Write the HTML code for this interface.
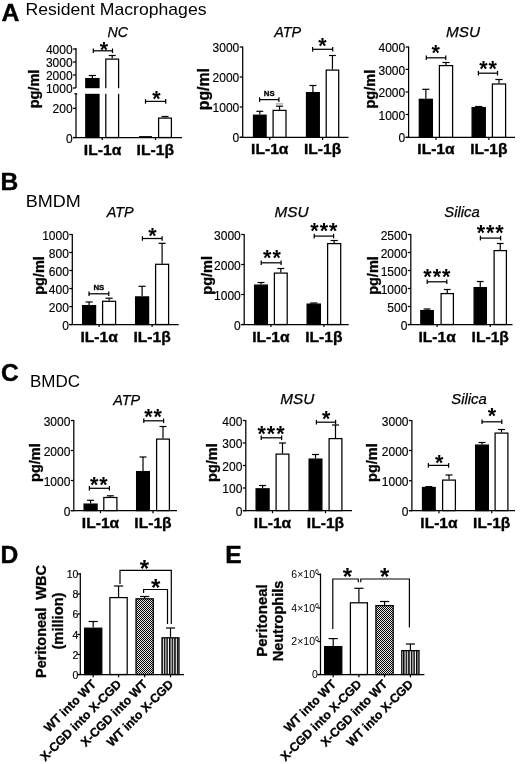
<!DOCTYPE html>
<html lang="en"><head><meta charset="utf-8"><title>Figure</title>
<style>html,body{margin:0;padding:0;background:#fff}svg{display:block}text{font-family:"Liberation Sans", sans-serif}</style>
</head><body>
<svg width="520" height="764" viewBox="0 0 520 764">
<defs>
<pattern id="chk" width="2" height="2" patternUnits="userSpaceOnUse"><rect width="2" height="2" fill="#e8e8e8"/><rect width="1" height="1" fill="#000"/><rect x="1" y="1" width="1" height="1" fill="#000"/></pattern>
<pattern id="vst" width="2.6" height="4" patternUnits="userSpaceOnUse"><rect width="2.6" height="4" fill="#fff"/><rect width="1.5" height="4" fill="#000"/></pattern>
</defs>
<rect width="520" height="764" fill="#fff"/>
<text x="1.4" y="21" font-size="24.8" font-weight="bold" stroke="#000" stroke-width="0.4">A</text>
<text x="0.6" y="190.3" font-size="24.6" font-weight="bold" stroke="#000" stroke-width="0.4">B</text>
<text x="1" y="380.6" font-size="24.6" font-weight="bold" stroke="#000" stroke-width="0.4">C</text>
<text x="0.6" y="562.8" font-size="24.6" font-weight="bold" stroke="#000" stroke-width="0.4">D</text>
<text x="225.3" y="563" font-size="24.6" font-weight="bold" stroke="#000" stroke-width="0.4">E</text>
<text x="25.5" y="14.8" font-size="17" textLength="181" lengthAdjust="spacingAndGlyphs">Resident Macrophages</text>
<text x="25.8" y="206.5" font-size="17" textLength="55" lengthAdjust="spacingAndGlyphs">BMDM</text>
<text x="30" y="387.4" font-size="17" textLength="50" lengthAdjust="spacingAndGlyphs">BMDC</text>
<line x1="76" y1="48" x2="76" y2="88" stroke="#000" stroke-width="1.25"/>
<line x1="73" y1="49" x2="76" y2="49" stroke="#000" stroke-width="1.25"/>
<text x="72.6" y="54.1" font-size="12" text-anchor="end" stroke="#000" stroke-width="0.15">4000</text>
<line x1="73" y1="62" x2="76" y2="62" stroke="#000" stroke-width="1.25"/>
<text x="72.6" y="67.1" font-size="12" text-anchor="end" stroke="#000" stroke-width="0.15">3000</text>
<line x1="73" y1="75" x2="76" y2="75" stroke="#000" stroke-width="1.25"/>
<text x="72.6" y="80.1" font-size="12" text-anchor="end" stroke="#000" stroke-width="0.15">2000</text>
<line x1="73" y1="88" x2="76" y2="88" stroke="#000" stroke-width="1.25"/>
<text x="72.6" y="93.1" font-size="12" text-anchor="end" stroke="#000" stroke-width="0.15">1000</text>
<line x1="76" y1="93.5" x2="76" y2="138" stroke="#000" stroke-width="1.25"/>
<line x1="74.5" y1="93.8" x2="77.5" y2="93.8" stroke="#000" stroke-width="1.25"/>
<line x1="73" y1="108.3" x2="76" y2="108.3" stroke="#000" stroke-width="1.25"/>
<text x="72.6" y="113.4" font-size="12" text-anchor="end" stroke="#000" stroke-width="0.15">200</text>
<line x1="73" y1="137.5" x2="76" y2="137.5" stroke="#000" stroke-width="1.25"/>
<text x="72.6" y="142.6" font-size="12" text-anchor="end" stroke="#000" stroke-width="0.15">0</text>
<line x1="73" y1="137.5" x2="182" y2="137.5" stroke="#000" stroke-width="1.25"/>
<line x1="92.4" y1="78" x2="92.4" y2="75.5" stroke="#000" stroke-width="1.2"/>
<line x1="88.8" y1="75.5" x2="96" y2="75.5" stroke="#000" stroke-width="1.2"/>
<rect x="85.8" y="78.6" width="13.2" height="58.9" fill="#000" stroke="#000" stroke-width="1.25"/>
<line x1="112.2" y1="58.5" x2="112.2" y2="55.5" stroke="#000" stroke-width="1.2"/>
<line x1="108.7" y1="55.5" x2="115.7" y2="55.5" stroke="#000" stroke-width="1.2"/>
<rect x="105.8" y="59.1" width="12.8" height="78.4" fill="#fff" stroke="#000" stroke-width="1.25"/>
<rect x="77" y="88.2" width="60" height="5.6" fill="#fff"/>
<line x1="139" y1="136.6" x2="152" y2="136.6" stroke="#000" stroke-width="1"/>
<line x1="165" y1="117.5" x2="165" y2="116.5" stroke="#000" stroke-width="1.2"/>
<line x1="161.5" y1="116.5" x2="168.5" y2="116.5" stroke="#000" stroke-width="1.2"/>
<rect x="158.6" y="118.1" width="12.8" height="19.4" fill="#fff" stroke="#000" stroke-width="1.25"/>
<line x1="102.2" y1="137.5" x2="102.2" y2="140" stroke="#000" stroke-width="1.25"/>
<line x1="155.5" y1="137.5" x2="155.5" y2="140" stroke="#000" stroke-width="1.25"/>
<line x1="93.3" y1="50.8" x2="112.5" y2="50.8" stroke="#000" stroke-width="1.25"/>
<line x1="93.3" y1="48.5" x2="93.3" y2="53.1" stroke="#000" stroke-width="1.25"/>
<line x1="112.5" y1="48.5" x2="112.5" y2="53.1" stroke="#000" stroke-width="1.25"/>
<text x="104" y="57" font-size="21.5" font-weight="bold" text-anchor="middle">*</text>
<line x1="145.5" y1="101.4" x2="165.7" y2="101.4" stroke="#000" stroke-width="1.25"/>
<line x1="145.5" y1="99.1" x2="145.5" y2="103.7" stroke="#000" stroke-width="1.25"/>
<line x1="165.7" y1="99.1" x2="165.7" y2="103.7" stroke="#000" stroke-width="1.25"/>
<text x="156.4" y="105.9" font-size="21.5" font-weight="bold" text-anchor="middle">*</text>
<text x="117.8" y="37" font-size="15" font-style="italic" text-anchor="middle" textLength="20.5" lengthAdjust="spacingAndGlyphs" stroke="#000" stroke-width="0.25">NC</text>
<text x="83.8" y="154.5" font-size="15.5" font-weight="bold" textLength="37.5" lengthAdjust="spacingAndGlyphs" stroke="#000" stroke-width="0.35">IL-1α</text>
<text x="136.6" y="154.5" font-size="15.5" font-weight="bold" textLength="37.5" lengthAdjust="spacingAndGlyphs" stroke="#000" stroke-width="0.35">IL-1β</text>
<text x="38.8" y="89" font-size="14.5" font-weight="bold" text-anchor="middle" transform="rotate(-90 38.8 89)" stroke="#000" stroke-width="0.3">pg/ml</text>
<line x1="242.7" y1="46.4" x2="242.7" y2="137.9" stroke="#000" stroke-width="1.25"/>
<line x1="239.7" y1="137.3" x2="348.5" y2="137.3" stroke="#000" stroke-width="1.25"/>
<line x1="239.7" y1="47" x2="242.7" y2="47" stroke="#000" stroke-width="1.25"/>
<text x="239.3" y="52.1" font-size="12" text-anchor="end" stroke="#000" stroke-width="0.15">3000</text>
<line x1="239.7" y1="77" x2="242.7" y2="77" stroke="#000" stroke-width="1.25"/>
<text x="239.3" y="82.1" font-size="12" text-anchor="end" stroke="#000" stroke-width="0.15">2000</text>
<line x1="239.7" y1="107" x2="242.7" y2="107" stroke="#000" stroke-width="1.25"/>
<text x="239.3" y="112.1" font-size="12" text-anchor="end" stroke="#000" stroke-width="0.15">1000</text>
<line x1="239.7" y1="137.3" x2="242.7" y2="137.3" stroke="#000" stroke-width="1.25"/>
<text x="239.3" y="142.4" font-size="12" text-anchor="end" stroke="#000" stroke-width="0.15">0</text>
<line x1="259.8" y1="114.6" x2="259.8" y2="111.3" stroke="#000" stroke-width="1.2"/>
<line x1="256.35" y1="111.3" x2="263.25" y2="111.3" stroke="#000" stroke-width="1.2"/>
<rect x="253.5" y="115.2" width="12.6" height="22.1" fill="#000" stroke="#000" stroke-width="1.25"/>
<line x1="279.55" y1="109.8" x2="279.55" y2="106.2" stroke="#000" stroke-width="1.2"/>
<line x1="276.02" y1="106.2" x2="283.08" y2="106.2" stroke="#000" stroke-width="1.2"/>
<rect x="273.1" y="110.4" width="12.9" height="26.9" fill="#fff" stroke="#000" stroke-width="1.25"/>
<line x1="312.9" y1="92" x2="312.9" y2="85.5" stroke="#000" stroke-width="1.2"/>
<line x1="309.4" y1="85.5" x2="316.4" y2="85.5" stroke="#000" stroke-width="1.2"/>
<rect x="306.5" y="92.6" width="12.8" height="44.7" fill="#000" stroke="#000" stroke-width="1.25"/>
<line x1="332.45" y1="69.5" x2="332.45" y2="55.5" stroke="#000" stroke-width="1.2"/>
<line x1="329.03" y1="55.5" x2="335.88" y2="55.5" stroke="#000" stroke-width="1.2"/>
<rect x="326.2" y="70.1" width="12.5" height="67.2" fill="#fff" stroke="#000" stroke-width="1.25"/>
<line x1="269.75" y1="137.3" x2="269.75" y2="139.9" stroke="#000" stroke-width="1.25"/>
<line x1="322.6" y1="137.3" x2="322.6" y2="139.9" stroke="#000" stroke-width="1.25"/>
<line x1="259.6" y1="99.6" x2="278.9" y2="99.6" stroke="#000" stroke-width="1.25"/>
<line x1="259.6" y1="97.3" x2="259.6" y2="101.9" stroke="#000" stroke-width="1.25"/>
<line x1="278.9" y1="97.3" x2="278.9" y2="101.9" stroke="#000" stroke-width="1.25"/>
<text x="269.25" y="95.9" font-size="7.8" font-weight="bold" text-anchor="middle" stroke="#000" stroke-width="0.3">NS</text>
<line x1="312.6" y1="49.3" x2="332.7" y2="49.3" stroke="#000" stroke-width="1.25"/>
<line x1="312.6" y1="47" x2="312.6" y2="51.6" stroke="#000" stroke-width="1.25"/>
<line x1="332.7" y1="47" x2="332.7" y2="51.6" stroke="#000" stroke-width="1.25"/>
<text x="322.5" y="52.6" font-size="21.5" font-weight="bold" text-anchor="middle">*</text>
<text x="287.7" y="37" font-size="15" font-style="italic" text-anchor="middle" textLength="27" lengthAdjust="spacingAndGlyphs" stroke="#000" stroke-width="0.25">ATP</text>
<text x="269.75" y="154.3" font-size="15.5" font-weight="bold" text-anchor="middle" textLength="37.3" lengthAdjust="spacingAndGlyphs" stroke="#000" stroke-width="0.35">IL-1α</text>
<text x="322.6" y="154.3" font-size="15.5" font-weight="bold" text-anchor="middle" textLength="37.3" lengthAdjust="spacingAndGlyphs" stroke="#000" stroke-width="0.35">IL-1β</text>
<text x="208.6" y="89.15" font-size="15.8" font-weight="bold" text-anchor="middle" transform="rotate(-90 208.6 89.15)" stroke="#000" stroke-width="0.3">pg/ml</text>
<line x1="275.8" y1="103.9" x2="283.2" y2="103.9" stroke="#999" stroke-width="1.2"/>
<line x1="408.6" y1="46.4" x2="408.6" y2="137.9" stroke="#000" stroke-width="1.25"/>
<line x1="405.6" y1="137.3" x2="515" y2="137.3" stroke="#000" stroke-width="1.25"/>
<line x1="405.6" y1="47" x2="408.6" y2="47" stroke="#000" stroke-width="1.25"/>
<text x="405.2" y="52.1" font-size="12" text-anchor="end" stroke="#000" stroke-width="0.15">4000</text>
<line x1="405.6" y1="69.4" x2="408.6" y2="69.4" stroke="#000" stroke-width="1.25"/>
<text x="405.2" y="74.5" font-size="12" text-anchor="end" stroke="#000" stroke-width="0.15">3000</text>
<line x1="405.6" y1="92" x2="408.6" y2="92" stroke="#000" stroke-width="1.25"/>
<text x="405.2" y="97.1" font-size="12" text-anchor="end" stroke="#000" stroke-width="0.15">2000</text>
<line x1="405.6" y1="114.5" x2="408.6" y2="114.5" stroke="#000" stroke-width="1.25"/>
<text x="405.2" y="119.6" font-size="12" text-anchor="end" stroke="#000" stroke-width="0.15">1000</text>
<line x1="405.6" y1="137.3" x2="408.6" y2="137.3" stroke="#000" stroke-width="1.25"/>
<text x="405.2" y="142.4" font-size="12" text-anchor="end" stroke="#000" stroke-width="0.15">0</text>
<line x1="425.85" y1="98.7" x2="425.85" y2="89.3" stroke="#000" stroke-width="1.2"/>
<line x1="422.28" y1="89.3" x2="429.43" y2="89.3" stroke="#000" stroke-width="1.2"/>
<rect x="419.3" y="99.3" width="13.1" height="38" fill="#000" stroke="#000" stroke-width="1.25"/>
<line x1="446" y1="65" x2="446" y2="62.5" stroke="#000" stroke-width="1.2"/>
<line x1="442.4" y1="62.5" x2="449.6" y2="62.5" stroke="#000" stroke-width="1.2"/>
<rect x="439.4" y="65.6" width="13.2" height="71.7" fill="#fff" stroke="#000" stroke-width="1.25"/>
<line x1="478.7" y1="107" x2="478.7" y2="106.5" stroke="#000" stroke-width="1.2"/>
<line x1="475.1" y1="106.5" x2="482.3" y2="106.5" stroke="#000" stroke-width="1.2"/>
<rect x="472.1" y="107.6" width="13.2" height="29.7" fill="#000" stroke="#000" stroke-width="1.25"/>
<line x1="499" y1="83.4" x2="499" y2="79.5" stroke="#000" stroke-width="1.2"/>
<line x1="495.4" y1="79.5" x2="502.6" y2="79.5" stroke="#000" stroke-width="1.2"/>
<rect x="492.4" y="84" width="13.2" height="53.3" fill="#fff" stroke="#000" stroke-width="1.25"/>
<line x1="435.95" y1="137.3" x2="435.95" y2="139.9" stroke="#000" stroke-width="1.25"/>
<line x1="488.85" y1="137.3" x2="488.85" y2="139.9" stroke="#000" stroke-width="1.25"/>
<line x1="426.3" y1="57.8" x2="445.8" y2="57.8" stroke="#000" stroke-width="1.25"/>
<line x1="426.3" y1="55.5" x2="426.3" y2="60.1" stroke="#000" stroke-width="1.25"/>
<line x1="445.8" y1="55.5" x2="445.8" y2="60.1" stroke="#000" stroke-width="1.25"/>
<text x="435.7" y="60.4" font-size="21.5" font-weight="bold" text-anchor="middle">*</text>
<line x1="478.4" y1="73.2" x2="497.5" y2="73.2" stroke="#000" stroke-width="1.25"/>
<line x1="478.4" y1="70.9" x2="478.4" y2="75.5" stroke="#000" stroke-width="1.25"/>
<line x1="497.5" y1="70.9" x2="497.5" y2="75.5" stroke="#000" stroke-width="1.25"/>
<text x="488.6" y="75.9" font-size="21.5" font-weight="bold" text-anchor="middle" letter-spacing="1">**</text>
<text x="463" y="37" font-size="15" font-style="italic" text-anchor="middle" textLength="34" lengthAdjust="spacingAndGlyphs" stroke="#000" stroke-width="0.25">MSU</text>
<text x="435.95" y="154.3" font-size="15.5" font-weight="bold" text-anchor="middle" textLength="37.3" lengthAdjust="spacingAndGlyphs" stroke="#000" stroke-width="0.35">IL-1α</text>
<text x="488.85" y="154.3" font-size="15.5" font-weight="bold" text-anchor="middle" textLength="37.3" lengthAdjust="spacingAndGlyphs" stroke="#000" stroke-width="0.35">IL-1β</text>
<text x="374.7" y="89.15" font-size="14.5" font-weight="bold" text-anchor="middle" transform="rotate(-90 374.7 89.15)" stroke="#000" stroke-width="0.3">pg/ml</text>
<line x1="72.3" y1="233.9" x2="72.3" y2="325.1" stroke="#000" stroke-width="1.25"/>
<line x1="69.3" y1="324.5" x2="178.7" y2="324.5" stroke="#000" stroke-width="1.25"/>
<line x1="69.3" y1="234.5" x2="72.3" y2="234.5" stroke="#000" stroke-width="1.25"/>
<text x="68.9" y="239.6" font-size="12" text-anchor="end" stroke="#000" stroke-width="0.15">1000</text>
<line x1="69.3" y1="252.5" x2="72.3" y2="252.5" stroke="#000" stroke-width="1.25"/>
<text x="68.9" y="257.6" font-size="12" text-anchor="end" stroke="#000" stroke-width="0.15">800</text>
<line x1="69.3" y1="270.5" x2="72.3" y2="270.5" stroke="#000" stroke-width="1.25"/>
<text x="68.9" y="275.6" font-size="12" text-anchor="end" stroke="#000" stroke-width="0.15">600</text>
<line x1="69.3" y1="288.6" x2="72.3" y2="288.6" stroke="#000" stroke-width="1.25"/>
<text x="68.9" y="293.7" font-size="12" text-anchor="end" stroke="#000" stroke-width="0.15">400</text>
<line x1="69.3" y1="306.6" x2="72.3" y2="306.6" stroke="#000" stroke-width="1.25"/>
<text x="68.9" y="311.7" font-size="12" text-anchor="end" stroke="#000" stroke-width="0.15">200</text>
<line x1="69.3" y1="324.5" x2="72.3" y2="324.5" stroke="#000" stroke-width="1.25"/>
<text x="68.9" y="329.6" font-size="12" text-anchor="end" stroke="#000" stroke-width="0.15">0</text>
<line x1="89.1" y1="305" x2="89.1" y2="302" stroke="#000" stroke-width="1.2"/>
<line x1="85.55" y1="302" x2="92.65" y2="302" stroke="#000" stroke-width="1.2"/>
<rect x="82.6" y="305.6" width="13" height="18.9" fill="#000" stroke="#000" stroke-width="1.25"/>
<line x1="109.1" y1="300.7" x2="109.1" y2="298.2" stroke="#000" stroke-width="1.2"/>
<line x1="105.55" y1="298.2" x2="112.65" y2="298.2" stroke="#000" stroke-width="1.2"/>
<rect x="102.6" y="301.3" width="13" height="23.2" fill="#fff" stroke="#000" stroke-width="1.25"/>
<line x1="142.1" y1="296.3" x2="142.1" y2="286.3" stroke="#000" stroke-width="1.2"/>
<line x1="138.55" y1="286.3" x2="145.65" y2="286.3" stroke="#000" stroke-width="1.2"/>
<rect x="135.6" y="296.9" width="13" height="27.6" fill="#000" stroke="#000" stroke-width="1.25"/>
<line x1="162.1" y1="263.7" x2="162.1" y2="243.3" stroke="#000" stroke-width="1.2"/>
<line x1="158.55" y1="243.3" x2="165.65" y2="243.3" stroke="#000" stroke-width="1.2"/>
<rect x="155.6" y="264.3" width="13" height="60.2" fill="#fff" stroke="#000" stroke-width="1.25"/>
<line x1="99.1" y1="324.5" x2="99.1" y2="327.1" stroke="#000" stroke-width="1.25"/>
<line x1="152.1" y1="324.5" x2="152.1" y2="327.1" stroke="#000" stroke-width="1.25"/>
<line x1="89" y1="293.8" x2="108.8" y2="293.8" stroke="#000" stroke-width="1.25"/>
<line x1="89" y1="291.5" x2="89" y2="296.1" stroke="#000" stroke-width="1.25"/>
<line x1="108.8" y1="291.5" x2="108.8" y2="296.1" stroke="#000" stroke-width="1.25"/>
<text x="98.9" y="290.1" font-size="7.8" font-weight="bold" text-anchor="middle" stroke="#000" stroke-width="0.3">NS</text>
<line x1="142.4" y1="238.5" x2="162.1" y2="238.5" stroke="#000" stroke-width="1.25"/>
<line x1="142.4" y1="236.2" x2="142.4" y2="240.8" stroke="#000" stroke-width="1.25"/>
<line x1="162.1" y1="236.2" x2="162.1" y2="240.8" stroke="#000" stroke-width="1.25"/>
<text x="152.4" y="243.2" font-size="21.5" font-weight="bold" text-anchor="middle">*</text>
<text x="120.2" y="217" font-size="15" font-style="italic" text-anchor="middle" textLength="27" lengthAdjust="spacingAndGlyphs" stroke="#000" stroke-width="0.25">ATP</text>
<text x="99.1" y="341.5" font-size="15.5" font-weight="bold" text-anchor="middle" textLength="37.3" lengthAdjust="spacingAndGlyphs" stroke="#000" stroke-width="0.35">IL-1α</text>
<text x="152.1" y="341.5" font-size="15.5" font-weight="bold" text-anchor="middle" textLength="37.3" lengthAdjust="spacingAndGlyphs" stroke="#000" stroke-width="0.35">IL-1β</text>
<text x="43.5" y="275.5" font-size="14.5" font-weight="bold" text-anchor="middle" transform="rotate(-90 43.5 275.5)" stroke="#000" stroke-width="0.3">pg/ml</text>
<line x1="244.2" y1="233.9" x2="244.2" y2="325.1" stroke="#000" stroke-width="1.25"/>
<line x1="241.2" y1="324.5" x2="348.7" y2="324.5" stroke="#000" stroke-width="1.25"/>
<line x1="241.2" y1="234.5" x2="244.2" y2="234.5" stroke="#000" stroke-width="1.25"/>
<text x="240.8" y="239.6" font-size="12" text-anchor="end" stroke="#000" stroke-width="0.15">3000</text>
<line x1="241.2" y1="264.5" x2="244.2" y2="264.5" stroke="#000" stroke-width="1.25"/>
<text x="240.8" y="269.6" font-size="12" text-anchor="end" stroke="#000" stroke-width="0.15">2000</text>
<line x1="241.2" y1="294.5" x2="244.2" y2="294.5" stroke="#000" stroke-width="1.25"/>
<text x="240.8" y="299.6" font-size="12" text-anchor="end" stroke="#000" stroke-width="0.15">1000</text>
<line x1="241.2" y1="324.5" x2="244.2" y2="324.5" stroke="#000" stroke-width="1.25"/>
<text x="240.8" y="329.6" font-size="12" text-anchor="end" stroke="#000" stroke-width="0.15">0</text>
<line x1="261" y1="284.5" x2="261" y2="282.5" stroke="#000" stroke-width="1.2"/>
<line x1="257.5" y1="282.5" x2="264.5" y2="282.5" stroke="#000" stroke-width="1.2"/>
<rect x="254.6" y="285.1" width="12.8" height="39.4" fill="#000" stroke="#000" stroke-width="1.25"/>
<line x1="280.8" y1="272.5" x2="280.8" y2="268.5" stroke="#000" stroke-width="1.2"/>
<line x1="277.3" y1="268.5" x2="284.3" y2="268.5" stroke="#000" stroke-width="1.2"/>
<rect x="274.4" y="273.1" width="12.8" height="51.4" fill="#fff" stroke="#000" stroke-width="1.25"/>
<line x1="313.75" y1="303.5" x2="313.75" y2="303" stroke="#000" stroke-width="1.2"/>
<line x1="310.12" y1="303" x2="317.38" y2="303" stroke="#000" stroke-width="1.2"/>
<rect x="307.1" y="304.1" width="13.3" height="20.4" fill="#000" stroke="#000" stroke-width="1.25"/>
<line x1="334.15" y1="243" x2="334.15" y2="240.5" stroke="#000" stroke-width="1.2"/>
<line x1="330.57" y1="240.5" x2="337.72" y2="240.5" stroke="#000" stroke-width="1.2"/>
<rect x="327.6" y="243.6" width="13.1" height="80.9" fill="#fff" stroke="#000" stroke-width="1.25"/>
<line x1="270.9" y1="324.5" x2="270.9" y2="327.1" stroke="#000" stroke-width="1.25"/>
<line x1="323.9" y1="324.5" x2="323.9" y2="327.1" stroke="#000" stroke-width="1.25"/>
<line x1="261.2" y1="262.8" x2="281.1" y2="262.8" stroke="#000" stroke-width="1.25"/>
<line x1="261.2" y1="260.5" x2="261.2" y2="265.1" stroke="#000" stroke-width="1.25"/>
<line x1="281.1" y1="260.5" x2="281.1" y2="265.1" stroke="#000" stroke-width="1.25"/>
<text x="272.4" y="265.4" font-size="21.5" font-weight="bold" text-anchor="middle" letter-spacing="1">**</text>
<line x1="314.2" y1="236.1" x2="333.6" y2="236.1" stroke="#000" stroke-width="1.25"/>
<line x1="314.2" y1="233.8" x2="314.2" y2="238.4" stroke="#000" stroke-width="1.25"/>
<line x1="333.6" y1="233.8" x2="333.6" y2="238.4" stroke="#000" stroke-width="1.25"/>
<text x="324.4" y="238" font-size="21.5" font-weight="bold" text-anchor="middle" letter-spacing="1">***</text>
<text x="291.5" y="217" font-size="15" font-style="italic" text-anchor="middle" textLength="34" lengthAdjust="spacingAndGlyphs" stroke="#000" stroke-width="0.25">MSU</text>
<text x="270.9" y="341.5" font-size="15.5" font-weight="bold" text-anchor="middle" textLength="37.3" lengthAdjust="spacingAndGlyphs" stroke="#000" stroke-width="0.35">IL-1α</text>
<text x="323.9" y="341.5" font-size="15.5" font-weight="bold" text-anchor="middle" textLength="37.3" lengthAdjust="spacingAndGlyphs" stroke="#000" stroke-width="0.35">IL-1β</text>
<text x="211.9" y="275.3" font-size="14.5" font-weight="bold" text-anchor="middle" transform="rotate(-90 211.9 275.3)" stroke="#000" stroke-width="0.3">pg/ml</text>
<line x1="410.8" y1="233.9" x2="410.8" y2="325.1" stroke="#000" stroke-width="1.25"/>
<line x1="407.8" y1="324.5" x2="512.5" y2="324.5" stroke="#000" stroke-width="1.25"/>
<line x1="407.8" y1="234.5" x2="410.8" y2="234.5" stroke="#000" stroke-width="1.25"/>
<text x="407.4" y="239.6" font-size="12" text-anchor="end" stroke="#000" stroke-width="0.15">2500</text>
<line x1="407.8" y1="252.5" x2="410.8" y2="252.5" stroke="#000" stroke-width="1.25"/>
<text x="407.4" y="257.6" font-size="12" text-anchor="end" stroke="#000" stroke-width="0.15">2000</text>
<line x1="407.8" y1="270.5" x2="410.8" y2="270.5" stroke="#000" stroke-width="1.25"/>
<text x="407.4" y="275.6" font-size="12" text-anchor="end" stroke="#000" stroke-width="0.15">1500</text>
<line x1="407.8" y1="288.5" x2="410.8" y2="288.5" stroke="#000" stroke-width="1.25"/>
<text x="407.4" y="293.6" font-size="12" text-anchor="end" stroke="#000" stroke-width="0.15">1000</text>
<line x1="407.8" y1="306.5" x2="410.8" y2="306.5" stroke="#000" stroke-width="1.25"/>
<text x="407.4" y="311.6" font-size="12" text-anchor="end" stroke="#000" stroke-width="0.15">500</text>
<line x1="407.8" y1="324.5" x2="410.8" y2="324.5" stroke="#000" stroke-width="1.25"/>
<text x="407.4" y="329.6" font-size="12" text-anchor="end" stroke="#000" stroke-width="0.15">0</text>
<line x1="427.05" y1="310" x2="427.05" y2="309" stroke="#000" stroke-width="1.2"/>
<line x1="423.62" y1="309" x2="430.47" y2="309" stroke="#000" stroke-width="1.2"/>
<rect x="420.8" y="310.6" width="12.5" height="13.9" fill="#000" stroke="#000" stroke-width="1.25"/>
<line x1="447.25" y1="293" x2="447.25" y2="289.5" stroke="#000" stroke-width="1.2"/>
<line x1="443.88" y1="289.5" x2="450.62" y2="289.5" stroke="#000" stroke-width="1.2"/>
<rect x="441.1" y="293.6" width="12.3" height="30.9" fill="#fff" stroke="#000" stroke-width="1.25"/>
<line x1="480.25" y1="287" x2="480.25" y2="281.5" stroke="#000" stroke-width="1.2"/>
<line x1="476.88" y1="281.5" x2="483.62" y2="281.5" stroke="#000" stroke-width="1.2"/>
<rect x="474.1" y="287.6" width="12.3" height="36.9" fill="#000" stroke="#000" stroke-width="1.25"/>
<line x1="500.25" y1="250" x2="500.25" y2="243.5" stroke="#000" stroke-width="1.2"/>
<line x1="496.88" y1="243.5" x2="503.62" y2="243.5" stroke="#000" stroke-width="1.2"/>
<rect x="494.1" y="250.6" width="12.3" height="73.9" fill="#fff" stroke="#000" stroke-width="1.25"/>
<line x1="437.1" y1="324.5" x2="437.1" y2="327.1" stroke="#000" stroke-width="1.25"/>
<line x1="490.25" y1="324.5" x2="490.25" y2="327.1" stroke="#000" stroke-width="1.25"/>
<line x1="427.2" y1="281.8" x2="446.8" y2="281.8" stroke="#000" stroke-width="1.25"/>
<line x1="427.2" y1="279.5" x2="427.2" y2="284.1" stroke="#000" stroke-width="1.25"/>
<line x1="446.8" y1="279.5" x2="446.8" y2="284.1" stroke="#000" stroke-width="1.25"/>
<text x="437.4" y="284.2" font-size="21.5" font-weight="bold" text-anchor="middle" letter-spacing="1">***</text>
<line x1="480.4" y1="238.1" x2="500.6" y2="238.1" stroke="#000" stroke-width="1.25"/>
<line x1="480.4" y1="235.8" x2="480.4" y2="240.4" stroke="#000" stroke-width="1.25"/>
<line x1="500.6" y1="235.8" x2="500.6" y2="240.4" stroke="#000" stroke-width="1.25"/>
<text x="490.7" y="239.9" font-size="21.5" font-weight="bold" text-anchor="middle" letter-spacing="1">***</text>
<text x="462" y="216.7" font-size="15" font-style="italic" text-anchor="middle" textLength="35.5" lengthAdjust="spacingAndGlyphs" stroke="#000" stroke-width="0.25">Silica</text>
<text x="437.1" y="341.5" font-size="15.5" font-weight="bold" text-anchor="middle" textLength="37.3" lengthAdjust="spacingAndGlyphs" stroke="#000" stroke-width="0.35">IL-1α</text>
<text x="490.25" y="341.5" font-size="15.5" font-weight="bold" text-anchor="middle" textLength="37.3" lengthAdjust="spacingAndGlyphs" stroke="#000" stroke-width="0.35">IL-1β</text>
<text x="377.8" y="275.5" font-size="14.5" font-weight="bold" text-anchor="middle" transform="rotate(-90 377.8 275.5)" stroke="#000" stroke-width="0.3">pg/ml</text>
<line x1="73.8" y1="419.9" x2="73.8" y2="511.2" stroke="#000" stroke-width="1.25"/>
<line x1="70.8" y1="510.6" x2="177" y2="510.6" stroke="#000" stroke-width="1.25"/>
<line x1="70.8" y1="420.5" x2="73.8" y2="420.5" stroke="#000" stroke-width="1.25"/>
<text x="70.4" y="425.6" font-size="12" text-anchor="end" stroke="#000" stroke-width="0.15">3000</text>
<line x1="70.8" y1="450.5" x2="73.8" y2="450.5" stroke="#000" stroke-width="1.25"/>
<text x="70.4" y="455.6" font-size="12" text-anchor="end" stroke="#000" stroke-width="0.15">2000</text>
<line x1="70.8" y1="480.5" x2="73.8" y2="480.5" stroke="#000" stroke-width="1.25"/>
<text x="70.4" y="485.6" font-size="12" text-anchor="end" stroke="#000" stroke-width="0.15">1000</text>
<line x1="70.8" y1="510.6" x2="73.8" y2="510.6" stroke="#000" stroke-width="1.25"/>
<text x="70.4" y="515.7" font-size="12" text-anchor="end" stroke="#000" stroke-width="0.15">0</text>
<line x1="90.6" y1="503.5" x2="90.6" y2="500.3" stroke="#000" stroke-width="1.2"/>
<line x1="87.05" y1="500.3" x2="94.15" y2="500.3" stroke="#000" stroke-width="1.2"/>
<rect x="84.1" y="504.1" width="13" height="6.5" fill="#000" stroke="#000" stroke-width="1.25"/>
<line x1="110.35" y1="496.9" x2="110.35" y2="495.8" stroke="#000" stroke-width="1.2"/>
<line x1="106.77" y1="495.8" x2="113.92" y2="495.8" stroke="#000" stroke-width="1.2"/>
<rect x="103.8" y="497.5" width="13.1" height="13.1" fill="#fff" stroke="#000" stroke-width="1.25"/>
<line x1="143" y1="471" x2="143" y2="457" stroke="#000" stroke-width="1.2"/>
<line x1="139.5" y1="457" x2="146.5" y2="457" stroke="#000" stroke-width="1.2"/>
<rect x="136.6" y="471.6" width="12.8" height="39" fill="#000" stroke="#000" stroke-width="1.25"/>
<line x1="163" y1="438.5" x2="163" y2="426.5" stroke="#000" stroke-width="1.2"/>
<line x1="159.5" y1="426.5" x2="166.5" y2="426.5" stroke="#000" stroke-width="1.2"/>
<rect x="156.6" y="439.1" width="12.8" height="71.5" fill="#fff" stroke="#000" stroke-width="1.25"/>
<line x1="100.5" y1="510.6" x2="100.5" y2="513.2" stroke="#000" stroke-width="1.25"/>
<line x1="153" y1="510.6" x2="153" y2="513.2" stroke="#000" stroke-width="1.25"/>
<line x1="89.4" y1="488.3" x2="109.4" y2="488.3" stroke="#000" stroke-width="1.25"/>
<line x1="89.4" y1="486" x2="89.4" y2="490.6" stroke="#000" stroke-width="1.25"/>
<line x1="109.4" y1="486" x2="109.4" y2="490.6" stroke="#000" stroke-width="1.25"/>
<text x="99.3" y="492" font-size="21.5" font-weight="bold" text-anchor="middle" letter-spacing="1">**</text>
<line x1="143.8" y1="420.8" x2="163.6" y2="420.8" stroke="#000" stroke-width="1.25"/>
<line x1="143.8" y1="418.5" x2="143.8" y2="423.1" stroke="#000" stroke-width="1.25"/>
<line x1="163.6" y1="418.5" x2="163.6" y2="423.1" stroke="#000" stroke-width="1.25"/>
<text x="153.6" y="424.4" font-size="21.5" font-weight="bold" text-anchor="middle" letter-spacing="1">**</text>
<text x="126.7" y="405" font-size="15" font-style="italic" text-anchor="middle" textLength="27" lengthAdjust="spacingAndGlyphs" stroke="#000" stroke-width="0.25">ATP</text>
<text x="100.5" y="527.6" font-size="15.5" font-weight="bold" text-anchor="middle" textLength="37.3" lengthAdjust="spacingAndGlyphs" stroke="#000" stroke-width="0.35">IL-1α</text>
<text x="153" y="527.6" font-size="15.5" font-weight="bold" text-anchor="middle" textLength="37.3" lengthAdjust="spacingAndGlyphs" stroke="#000" stroke-width="0.35">IL-1β</text>
<text x="40.5" y="462.55" font-size="14.5" font-weight="bold" text-anchor="middle" transform="rotate(-90 40.5 462.55)" stroke="#000" stroke-width="0.3">pg/ml</text>
<line x1="245.8" y1="419.9" x2="245.8" y2="511.2" stroke="#000" stroke-width="1.25"/>
<line x1="242.8" y1="510.6" x2="352" y2="510.6" stroke="#000" stroke-width="1.25"/>
<line x1="242.8" y1="420.5" x2="245.8" y2="420.5" stroke="#000" stroke-width="1.25"/>
<text x="242.4" y="425.6" font-size="12" text-anchor="end" stroke="#000" stroke-width="0.15">400</text>
<line x1="242.8" y1="443" x2="245.8" y2="443" stroke="#000" stroke-width="1.25"/>
<text x="242.4" y="448.1" font-size="12" text-anchor="end" stroke="#000" stroke-width="0.15">300</text>
<line x1="242.8" y1="465.5" x2="245.8" y2="465.5" stroke="#000" stroke-width="1.25"/>
<text x="242.4" y="470.6" font-size="12" text-anchor="end" stroke="#000" stroke-width="0.15">200</text>
<line x1="242.8" y1="488" x2="245.8" y2="488" stroke="#000" stroke-width="1.25"/>
<text x="242.4" y="493.1" font-size="12" text-anchor="end" stroke="#000" stroke-width="0.15">100</text>
<line x1="242.8" y1="510.6" x2="245.8" y2="510.6" stroke="#000" stroke-width="1.25"/>
<text x="242.4" y="515.7" font-size="12" text-anchor="end" stroke="#000" stroke-width="0.15">0</text>
<line x1="262.6" y1="488.2" x2="262.6" y2="485.5" stroke="#000" stroke-width="1.2"/>
<line x1="259.05" y1="485.5" x2="266.15" y2="485.5" stroke="#000" stroke-width="1.2"/>
<rect x="256.1" y="488.8" width="13" height="21.8" fill="#000" stroke="#000" stroke-width="1.25"/>
<line x1="282.5" y1="453.5" x2="282.5" y2="443" stroke="#000" stroke-width="1.2"/>
<line x1="279" y1="443" x2="286" y2="443" stroke="#000" stroke-width="1.2"/>
<rect x="276.1" y="454.1" width="12.8" height="56.5" fill="#fff" stroke="#000" stroke-width="1.25"/>
<line x1="315.5" y1="458.5" x2="315.5" y2="454.5" stroke="#000" stroke-width="1.2"/>
<line x1="312" y1="454.5" x2="319" y2="454.5" stroke="#000" stroke-width="1.2"/>
<rect x="309.1" y="459.1" width="12.8" height="51.5" fill="#000" stroke="#000" stroke-width="1.25"/>
<line x1="335.5" y1="438" x2="335.5" y2="425" stroke="#000" stroke-width="1.2"/>
<line x1="332" y1="425" x2="339" y2="425" stroke="#000" stroke-width="1.2"/>
<rect x="329.1" y="438.6" width="12.8" height="72" fill="#fff" stroke="#000" stroke-width="1.25"/>
<line x1="272.5" y1="510.6" x2="272.5" y2="513.2" stroke="#000" stroke-width="1.25"/>
<line x1="325.5" y1="510.6" x2="325.5" y2="513.2" stroke="#000" stroke-width="1.25"/>
<line x1="261.2" y1="437.8" x2="281.6" y2="437.8" stroke="#000" stroke-width="1.25"/>
<line x1="261.2" y1="435.5" x2="261.2" y2="440.1" stroke="#000" stroke-width="1.25"/>
<line x1="281.6" y1="435.5" x2="281.6" y2="440.1" stroke="#000" stroke-width="1.25"/>
<text x="271.5" y="440.6" font-size="21.5" font-weight="bold" text-anchor="middle" letter-spacing="1">***</text>
<line x1="316.4" y1="422.2" x2="335.6" y2="422.2" stroke="#000" stroke-width="1.25"/>
<line x1="316.4" y1="419.9" x2="316.4" y2="424.5" stroke="#000" stroke-width="1.25"/>
<line x1="335.6" y1="419.9" x2="335.6" y2="424.5" stroke="#000" stroke-width="1.25"/>
<text x="326.3" y="426.4" font-size="21.5" font-weight="bold" text-anchor="middle">*</text>
<text x="297.2" y="404" font-size="15" font-style="italic" text-anchor="middle" textLength="34" lengthAdjust="spacingAndGlyphs" stroke="#000" stroke-width="0.25">MSU</text>
<text x="272.5" y="527.6" font-size="15.5" font-weight="bold" text-anchor="middle" textLength="37.3" lengthAdjust="spacingAndGlyphs" stroke="#000" stroke-width="0.35">IL-1α</text>
<text x="325.5" y="527.6" font-size="15.5" font-weight="bold" text-anchor="middle" textLength="37.3" lengthAdjust="spacingAndGlyphs" stroke="#000" stroke-width="0.35">IL-1β</text>
<text x="217" y="462.55" font-size="14.5" font-weight="bold" text-anchor="middle" transform="rotate(-90 217 462.55)" stroke="#000" stroke-width="0.3">pg/ml</text>
<line x1="411.9" y1="419.9" x2="411.9" y2="511.2" stroke="#000" stroke-width="1.25"/>
<line x1="408.9" y1="510.6" x2="515" y2="510.6" stroke="#000" stroke-width="1.25"/>
<line x1="408.9" y1="420.5" x2="411.9" y2="420.5" stroke="#000" stroke-width="1.25"/>
<text x="408.5" y="425.6" font-size="12" text-anchor="end" stroke="#000" stroke-width="0.15">3000</text>
<line x1="408.9" y1="450.5" x2="411.9" y2="450.5" stroke="#000" stroke-width="1.25"/>
<text x="408.5" y="455.6" font-size="12" text-anchor="end" stroke="#000" stroke-width="0.15">2000</text>
<line x1="408.9" y1="480.7" x2="411.9" y2="480.7" stroke="#000" stroke-width="1.25"/>
<text x="408.5" y="485.8" font-size="12" text-anchor="end" stroke="#000" stroke-width="0.15">1000</text>
<line x1="408.9" y1="510.6" x2="411.9" y2="510.6" stroke="#000" stroke-width="1.25"/>
<text x="408.5" y="515.7" font-size="12" text-anchor="end" stroke="#000" stroke-width="0.15">0</text>
<line x1="428.85" y1="486.9" x2="428.85" y2="486.6" stroke="#000" stroke-width="1.2"/>
<line x1="425.38" y1="486.6" x2="432.33" y2="486.6" stroke="#000" stroke-width="1.2"/>
<rect x="422.5" y="487.5" width="12.7" height="23.1" fill="#000" stroke="#000" stroke-width="1.25"/>
<line x1="449" y1="479.5" x2="449" y2="475" stroke="#000" stroke-width="1.2"/>
<line x1="445.5" y1="475" x2="452.5" y2="475" stroke="#000" stroke-width="1.2"/>
<rect x="442.6" y="480.1" width="12.8" height="30.5" fill="#fff" stroke="#000" stroke-width="1.25"/>
<line x1="482" y1="444.5" x2="482" y2="442.5" stroke="#000" stroke-width="1.2"/>
<line x1="478.5" y1="442.5" x2="485.5" y2="442.5" stroke="#000" stroke-width="1.2"/>
<rect x="475.6" y="445.1" width="12.8" height="65.5" fill="#000" stroke="#000" stroke-width="1.25"/>
<line x1="501.5" y1="432.5" x2="501.5" y2="429.5" stroke="#000" stroke-width="1.2"/>
<line x1="498" y1="429.5" x2="505" y2="429.5" stroke="#000" stroke-width="1.2"/>
<rect x="495.1" y="433.1" width="12.8" height="77.5" fill="#fff" stroke="#000" stroke-width="1.25"/>
<line x1="438.95" y1="510.6" x2="438.95" y2="513.2" stroke="#000" stroke-width="1.25"/>
<line x1="491.75" y1="510.6" x2="491.75" y2="513.2" stroke="#000" stroke-width="1.25"/>
<line x1="428.4" y1="465.4" x2="448.6" y2="465.4" stroke="#000" stroke-width="1.25"/>
<line x1="428.4" y1="463.1" x2="428.4" y2="467.7" stroke="#000" stroke-width="1.25"/>
<line x1="448.6" y1="463.1" x2="448.6" y2="467.7" stroke="#000" stroke-width="1.25"/>
<text x="439.3" y="469.9" font-size="21.5" font-weight="bold" text-anchor="middle">*</text>
<line x1="482" y1="421.8" x2="501.8" y2="421.8" stroke="#000" stroke-width="1.25"/>
<line x1="482" y1="419.5" x2="482" y2="424.1" stroke="#000" stroke-width="1.25"/>
<line x1="501.8" y1="419.5" x2="501.8" y2="424.1" stroke="#000" stroke-width="1.25"/>
<text x="491.9" y="423.4" font-size="21.5" font-weight="bold" text-anchor="middle">*</text>
<text x="469" y="404" font-size="15" font-style="italic" text-anchor="middle" textLength="35.5" lengthAdjust="spacingAndGlyphs" stroke="#000" stroke-width="0.25">Silica</text>
<text x="438.95" y="527.6" font-size="15.5" font-weight="bold" text-anchor="middle" textLength="37.3" lengthAdjust="spacingAndGlyphs" stroke="#000" stroke-width="0.35">IL-1α</text>
<text x="491.75" y="527.6" font-size="15.5" font-weight="bold" text-anchor="middle" textLength="37.3" lengthAdjust="spacingAndGlyphs" stroke="#000" stroke-width="0.35">IL-1β</text>
<text x="376.6" y="462.55" font-size="14.5" font-weight="bold" text-anchor="middle" transform="rotate(-90 376.6 462.55)" stroke="#000" stroke-width="0.3">pg/ml</text>
<line x1="80.3" y1="573" x2="80.3" y2="675.1" stroke="#000" stroke-width="1.25"/>
<line x1="77.3" y1="674.5" x2="184" y2="674.5" stroke="#000" stroke-width="1.25"/>
<line x1="77.3" y1="574" x2="80.3" y2="574" stroke="#000" stroke-width="1.25"/>
<text x="78.4" y="578.2" font-size="10.5" text-anchor="end" stroke="#000" stroke-width="0.15">10</text>
<line x1="77.3" y1="594" x2="80.3" y2="594" stroke="#000" stroke-width="1.25"/>
<text x="78.4" y="598.2" font-size="10.5" text-anchor="end" stroke="#000" stroke-width="0.15">8</text>
<line x1="77.3" y1="614" x2="80.3" y2="614" stroke="#000" stroke-width="1.25"/>
<text x="78.4" y="618.2" font-size="10.5" text-anchor="end" stroke="#000" stroke-width="0.15">6</text>
<line x1="77.3" y1="634.5" x2="80.3" y2="634.5" stroke="#000" stroke-width="1.25"/>
<text x="78.4" y="638.7" font-size="10.5" text-anchor="end" stroke="#000" stroke-width="0.15">4</text>
<line x1="77.3" y1="654.5" x2="80.3" y2="654.5" stroke="#000" stroke-width="1.25"/>
<text x="78.4" y="658.7" font-size="10.5" text-anchor="end" stroke="#000" stroke-width="0.15">2</text>
<line x1="77.3" y1="674.5" x2="80.3" y2="674.5" stroke="#000" stroke-width="1.25"/>
<text x="78.4" y="678.7" font-size="10.5" text-anchor="end" stroke="#000" stroke-width="0.15">0</text>
<line x1="93.2" y1="627.6" x2="93.2" y2="621.5" stroke="#000" stroke-width="1.2"/>
<line x1="88.6" y1="621.5" x2="97.8" y2="621.5" stroke="#000" stroke-width="1.2"/>
<rect x="84.6" y="628.2" width="17.2" height="46.3" fill="#000" stroke="#000" stroke-width="1.25"/>
<line x1="93.2" y1="674.5" x2="93.2" y2="677.3" stroke="#000" stroke-width="1.25"/>
<line x1="118.55" y1="597" x2="118.55" y2="586" stroke="#000" stroke-width="1.2"/>
<line x1="113.92" y1="586" x2="123.17" y2="586" stroke="#000" stroke-width="1.2"/>
<rect x="109.9" y="597.6" width="17.3" height="76.9" fill="#fff" stroke="#000" stroke-width="1.25"/>
<line x1="118.55" y1="674.5" x2="118.55" y2="677.3" stroke="#000" stroke-width="1.25"/>
<line x1="144.65" y1="598.2" x2="144.65" y2="596.5" stroke="#000" stroke-width="1.2"/>
<line x1="140.03" y1="596.5" x2="149.28" y2="596.5" stroke="#000" stroke-width="1.2"/>
<rect x="136" y="598.8" width="17.3" height="75.7" fill="url(#chk)" stroke="#000" stroke-width="1.25"/>
<line x1="144.65" y1="674.5" x2="144.65" y2="677.3" stroke="#000" stroke-width="1.25"/>
<line x1="170.5" y1="637.2" x2="170.5" y2="628" stroke="#000" stroke-width="1.2"/>
<line x1="165.95" y1="628" x2="175.05" y2="628" stroke="#000" stroke-width="1.2"/>
<rect x="162" y="637.8" width="17" height="36.7" fill="url(#vst)" stroke="#000" stroke-width="1.25"/>
<line x1="170.5" y1="674.5" x2="170.5" y2="677.3" stroke="#000" stroke-width="1.25"/>
<polyline points="120,584 120,570.3 171.3,570.3 171.3,624" fill="none" stroke="#000" stroke-width="1.2"/>
<text x="144.3" y="576.8" font-size="24" font-weight="bold" text-anchor="middle">*</text>
<polyline points="143.6,593 143.6,589.5 167.5,589.5 167.5,624" fill="none" stroke="#000" stroke-width="1.2"/>
<text x="155.6" y="596.3" font-size="24" font-weight="bold" text-anchor="middle">*</text>
<text x="96.7" y="685" font-size="12.3" font-weight="bold" text-anchor="end" transform="rotate(-45 96.7 685)" stroke="#000" stroke-width="0.3">WT into WT</text>
<text x="122.05" y="685" font-size="12.3" font-weight="bold" text-anchor="end" transform="rotate(-45 122.05 685)" stroke="#000" stroke-width="0.3">X-CGD into X-CGD</text>
<text x="148.15" y="685" font-size="12.3" font-weight="bold" text-anchor="end" transform="rotate(-45 148.15 685)" stroke="#000" stroke-width="0.3">X-CGD into WT</text>
<text x="174" y="685" font-size="12.3" font-weight="bold" text-anchor="end" transform="rotate(-45 174 685)" stroke="#000" stroke-width="0.3">WT into X-CGD</text>
<text x="45.7" y="621.5" font-size="15" font-weight="bold" text-anchor="middle" textLength="113" lengthAdjust="spacingAndGlyphs" transform="rotate(-90 45.7 621.5)" stroke="#000" stroke-width="0.3">Peritoneal&#160; WBC</text>
<text x="62.7" y="621" font-size="15" font-weight="bold" text-anchor="middle" textLength="57" lengthAdjust="spacingAndGlyphs" transform="rotate(-90 62.7 621)" stroke="#000" stroke-width="0.3">(million)</text>
<line x1="320.5" y1="573.5" x2="320.5" y2="675.1" stroke="#000" stroke-width="1.25"/>
<line x1="317.5" y1="674.5" x2="424.4" y2="674.5" stroke="#000" stroke-width="1.25"/>
<line x1="317.5" y1="574.5" x2="320.5" y2="574.5" stroke="#000" stroke-width="1.25"/>
<text x="318.9" y="578.3" font-size="10.5" text-anchor="end">6×10<tspan font-size="7" dy="-4">6</tspan></text>
<line x1="317.5" y1="608" x2="320.5" y2="608" stroke="#000" stroke-width="1.25"/>
<text x="318.9" y="611.8" font-size="10.5" text-anchor="end">4×10<tspan font-size="7" dy="-4">6</tspan></text>
<line x1="317.5" y1="641.5" x2="320.5" y2="641.5" stroke="#000" stroke-width="1.25"/>
<text x="318.9" y="645.3" font-size="10.5" text-anchor="end">2×10<tspan font-size="7" dy="-4">6</tspan></text>
<line x1="317.5" y1="674.5" x2="320.5" y2="674.5" stroke="#000" stroke-width="1.25"/>
<text x="317.9" y="678.3" font-size="10.5" text-anchor="end">0</text>
<line x1="333.2" y1="646" x2="333.2" y2="638.6" stroke="#000" stroke-width="1.2"/>
<line x1="328.6" y1="638.6" x2="337.8" y2="638.6" stroke="#000" stroke-width="1.2"/>
<rect x="324.6" y="646.6" width="17.2" height="27.9" fill="#000" stroke="#000" stroke-width="1.25"/>
<line x1="333.2" y1="674.5" x2="333.2" y2="677.3" stroke="#000" stroke-width="1.25"/>
<line x1="358.9" y1="602.2" x2="358.9" y2="588.3" stroke="#000" stroke-width="1.2"/>
<line x1="354.35" y1="588.3" x2="363.45" y2="588.3" stroke="#000" stroke-width="1.2"/>
<rect x="350.4" y="602.8" width="17" height="71.7" fill="#fff" stroke="#000" stroke-width="1.25"/>
<line x1="358.9" y1="674.5" x2="358.9" y2="677.3" stroke="#000" stroke-width="1.25"/>
<line x1="384.55" y1="605" x2="384.55" y2="601.5" stroke="#000" stroke-width="1.2"/>
<line x1="379.93" y1="601.5" x2="389.18" y2="601.5" stroke="#000" stroke-width="1.2"/>
<rect x="375.9" y="605.6" width="17.3" height="68.9" fill="url(#chk)" stroke="#000" stroke-width="1.25"/>
<line x1="384.55" y1="674.5" x2="384.55" y2="677.3" stroke="#000" stroke-width="1.25"/>
<line x1="410.4" y1="650" x2="410.4" y2="644" stroke="#000" stroke-width="1.2"/>
<line x1="405.8" y1="644" x2="415" y2="644" stroke="#000" stroke-width="1.2"/>
<rect x="401.8" y="650.6" width="17.2" height="23.9" fill="url(#vst)" stroke="#000" stroke-width="1.25"/>
<line x1="410.4" y1="674.5" x2="410.4" y2="677.3" stroke="#000" stroke-width="1.25"/>
<polyline points="332.8,629 332.8,579 358.3,579 358.3,582.3" fill="none" stroke="#000" stroke-width="1.2"/>
<polyline points="360.8,582.3 360.8,579 409.4,579 409.4,627.5" fill="none" stroke="#000" stroke-width="1.2"/>
<text x="347.3" y="585.1" font-size="24" font-weight="bold" text-anchor="middle">*</text>
<text x="384.7" y="585" font-size="24" font-weight="bold" text-anchor="middle">*</text>
<text x="336.7" y="685" font-size="12.3" font-weight="bold" text-anchor="end" transform="rotate(-45 336.7 685)" stroke="#000" stroke-width="0.3">WT into WT</text>
<text x="362.4" y="685" font-size="12.3" font-weight="bold" text-anchor="end" transform="rotate(-45 362.4 685)" stroke="#000" stroke-width="0.3">X-CGD into X-CGD</text>
<text x="388.05" y="685" font-size="12.3" font-weight="bold" text-anchor="end" transform="rotate(-45 388.05 685)" stroke="#000" stroke-width="0.3">X-CGD into WT</text>
<text x="413.9" y="685" font-size="12.3" font-weight="bold" text-anchor="end" transform="rotate(-45 413.9 685)" stroke="#000" stroke-width="0.3">WT into X-CGD</text>
<text x="267" y="620.5" font-size="15" font-weight="bold" text-anchor="middle" textLength="72.5" lengthAdjust="spacingAndGlyphs" transform="rotate(-90 267 620.5)" stroke="#000" stroke-width="0.3">Peritoneal</text>
<text x="283" y="621" font-size="15" font-weight="bold" text-anchor="middle" textLength="80.5" lengthAdjust="spacingAndGlyphs" transform="rotate(-90 283 621)" stroke="#000" stroke-width="0.3">Neutrophils</text>
</svg></body></html>
